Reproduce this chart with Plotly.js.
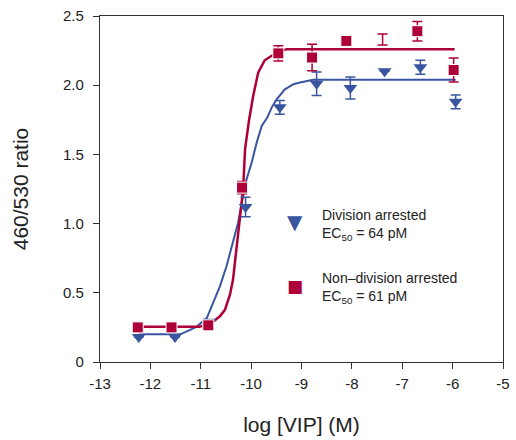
<!DOCTYPE html>
<html>
<head>
<meta charset="utf-8">
<script src="https://cdn.plot.ly/plotly-3.0.1.min.js"></script>
<style>html,body{margin:0;padding:0;background:#fff}#chart{width:516px;height:440px}</style>
</head>
<body>
<div id="chart"></div>
<script>
// Measured points: Non-division arrested (red squares)
const redX = [-12.25, -11.58, -10.85, -10.18, -9.46, -8.79, -8.11, -7.39, -6.70, -5.98];
const redY = [0.25, 0.25, 0.265, 1.26, 2.23, 2.20, 2.32, 2.33, 2.39, 2.11];
const redErr = [0, 0, 0, 0.045, 0.055, 0.095, 0.02, 0.04, 0.07, 0.087];
const redShown = [1, 1, 1, 1, 1, 1, 1, 0, 1, 1];

// Measured points: Division arrested (blue triangles)
const blueX = [-12.23, -11.51, -10.83, -10.11, -9.43, -8.70, -8.03, -7.35, -6.64, -5.94];
const blueY = [0.18, 0.18, 0.29, 1.12, 1.84, 2.01, 1.98, 2.10, 2.13, 1.88];
const blueErr = [0, 0, 0, 0.07, 0.05, 0.085, 0.08, 0, 0.05, 0.05];

// Fitted curves
const redCurveX = [-12.27, -11.02, -10.76, -10.62, -10.52, -10.42, -10.36, -10.30, -10.24, -10.20, -10.16, -10.14, -10.12, -10.04, -9.96, -9.86, -9.73, -9.56, -9.30, -5.96];
const redCurveY = [0.254, 0.254, 0.29, 0.33, 0.377, 0.486, 0.594, 0.79, 0.957, 1.10, 1.246, 1.39, 1.54, 1.75, 1.92, 2.09, 2.18, 2.22, 2.26, 2.26];
const blueCurveX = [-12.23, -11.41, -11.21, -11.08, -10.88, -10.75, -10.62, -10.49, -10.36, -10.26, -10.16, -10.09, -9.99, -9.89, -9.79, -9.68, -9.59, -9.49, -9.33, -9.16, -9.03, -8.77, -5.94];
const blueCurveY = [0.20, 0.20, 0.232, 0.256, 0.317, 0.425, 0.546, 0.69, 0.86, 1.005, 1.20, 1.32, 1.44, 1.585, 1.705, 1.766, 1.84, 1.90, 1.97, 2.007, 2.02, 2.04, 2.04];

const xTicks = [-13, -12, -11, -10, -9, -8, -7, -6, -5];
const xTickText = ["-13", "-12", "-11", "-10", "-9", "-8", "-7", "-6", "-5"];
const yTicks = [0, 0.5, 1.0, 1.5, 2.0, 2.5];
const yTickText = ["0", "0.5", "1.0", "1.5", "2.0", "2.5"];

const legendLabels = ["Division arrested<br>EC<sub>50</sub> = 64 pM", "Non\u2013division arrested<br>EC<sub>50</sub> = 61 pM"];

const RED = "#AD0039";
const BLUE = "#3A55A0";
const FONT = "Liberation Sans, Arial, Helvetica, sans-serif";

const traces = [
  {x: blueCurveX, y: blueCurveY, mode: "lines", line: {color: BLUE, width: 2}, hoverinfo: "skip"},
  {x: redCurveX, y: redCurveY, mode: "lines", line: {color: RED, width: 2.5}, hoverinfo: "skip"},
  {x: blueX, y: blueY, mode: "markers",
   marker: {symbol: "triangle-down", size: 12, color: BLUE},
   error_y: {type: "data", array: blueErr, visible: true, color: BLUE, thickness: 1.5, width: 5}},
  {x: redX, y: redY, mode: "markers",
   marker: {symbol: "square", size: redShown.map(s => s ? 11 : 0), color: RED, opacity: 1},
   error_y: {type: "data", array: redErr, visible: true, color: RED, thickness: 1.5, width: 5}}
];

const layout = {
  width: 516, height: 440,
  margin: {l: 100, r: 13, t: 16, b: 78},
  showlegend: false,
  paper_bgcolor: "#fff", plot_bgcolor: "#fff",
  font: {family: FONT, color: "#222", size: 14},
  xaxis: {
    range: [-13, -5], tickmode: "array", tickvals: xTicks, ticktext: xTickText,
    showgrid: false, zeroline: false, showline: true, linecolor: "#333", linewidth: 1.2,
    mirror: true, ticks: "outside", ticklen: 6, tickcolor: "#333", ticklabelstandoff: 2,
    tickfont: {size: 15, family: FONT, color: "#222"},
    title: {text: "log [VIP] (M)", font: {size: 21, family: FONT, color: "#222"}, standoff: 26}
  },
  yaxis: {
    range: [0, 2.5], tickmode: "array", tickvals: yTicks, ticktext: yTickText,
    showgrid: false, zeroline: false, showline: true, linecolor: "#333", linewidth: 1.2,
    mirror: true, ticks: "outside", ticklen: 6, tickcolor: "#333", ticklabelstandoff: 6,
    tickfont: {size: 15, family: FONT, color: "#222"},
    title: {text: "460/530 ratio", font: {size: 21, family: FONT, color: "#222"}, standoff: 28}
  },
  annotations: [
    {xref: "paper", yref: "paper", x: 0.547, y: 0.397, xanchor: "left", yanchor: "middle", align: "left",
     text: legendLabels[0], showarrow: false, font: {size: 14, family: FONT, color: "#222"}},
    {xref: "paper", yref: "paper", x: 0.547, y: 0.213, xanchor: "left", yanchor: "middle", align: "left",
     text: legendLabels[1], showarrow: false, font: {size: 14, family: FONT, color: "#222"}},
    {xref: "paper", yref: "paper", x: 0.483, y: 0.405, xanchor: "center", yanchor: "middle",
     text: "\u25BC", showarrow: false, font: {size: 20, family: "DejaVu Sans", color: BLUE}},
    {xref: "paper", yref: "paper", x: 0.483, y: 0.221, xanchor: "center", yanchor: "middle",
     text: "\u25A0", showarrow: false, font: {size: 17, family: "DejaVu Sans", color: RED}}
  ]
};

Plotly.newPlot("chart", traces, layout, {staticPlot: true, displayModeBar: false});
</script>
</body>
</html>
